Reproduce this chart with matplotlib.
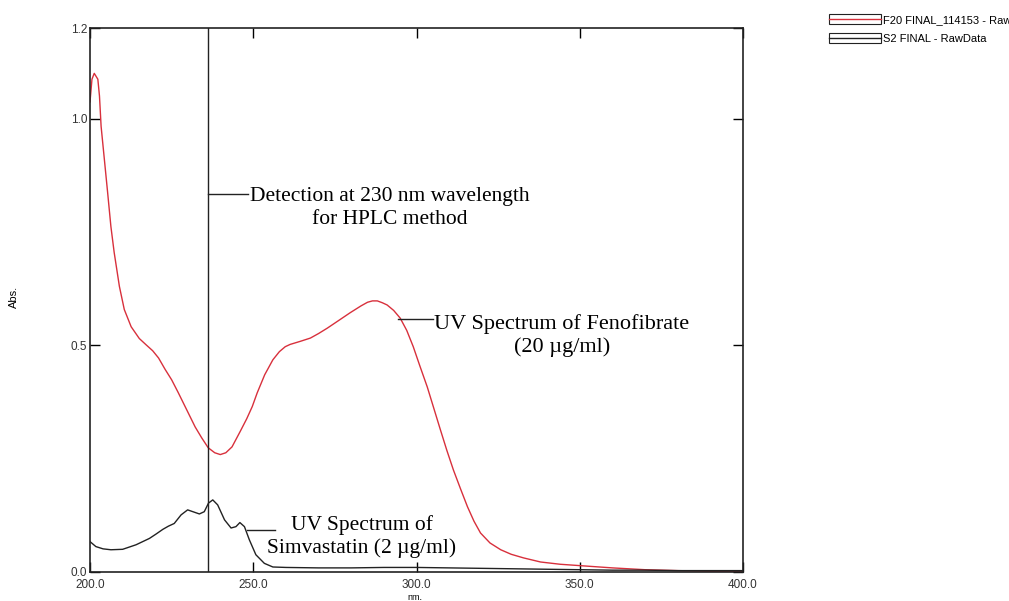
import numpy as np
import matplotlib
matplotlib.use('Agg')
from matplotlib import pyplot as plt
from matplotlib.patches import Rectangle
from matplotlib.lines import Line2D
from matplotlib.legend_handler import HandlerTuple

# UV spectrum of fenofibrate (20 ug/ml), wavelength in nm and absorbance
feno_nm = [200.0, 200.6, 201.3, 202.4, 202.9, 203.4, 204.4, 205.4, 206.4, 207.4, 209.0, 210.5,
           212.6, 215.1, 217.2, 219.2, 221.0, 223.0, 225.0, 227.0, 229.6, 232.2, 234.2, 236.2,
           238.2, 239.9, 241.6, 243.5, 246.0, 248.0, 249.7, 251.2, 253.5, 256.0, 258.0, 259.8,
           261.3, 264.5, 267.5, 270.0, 272.7, 276.0, 279.7, 283.0, 285.0, 286.5, 288.0, 289.5,
           291.0, 293.0, 295.0, 297.0, 299.0, 301.0, 303.3, 305.3, 307.3, 309.3, 311.3, 313.5,
           315.6, 317.6, 319.6, 322.5, 325.8, 329.0, 332.8, 338.0, 344.0, 350.0, 360.0, 370.0,
           380.0, 390.0, 400.0]
feno_abs = [1.037, 1.087, 1.100, 1.087, 1.050, 0.983, 0.910, 0.837, 0.762, 0.705, 0.630, 0.579,
            0.541, 0.515, 0.501, 0.488, 0.472, 0.447, 0.424, 0.396, 0.358, 0.320, 0.296, 0.274,
            0.263, 0.259, 0.263, 0.276, 0.310, 0.338, 0.365, 0.395, 0.435, 0.468, 0.486, 0.497,
            0.502, 0.509, 0.516, 0.526, 0.538, 0.554, 0.572, 0.587, 0.595, 0.598, 0.598, 0.594,
            0.589, 0.577, 0.560, 0.533, 0.497, 0.455, 0.408, 0.361, 0.314, 0.268, 0.225, 0.183,
            0.144, 0.112, 0.086, 0.064, 0.049, 0.039, 0.031, 0.022, 0.017, 0.014, 0.009, 0.005,
            0.003, 0.0015, 0.001]

# UV spectrum of simvastatin (2 ug/ml)
simva_nm = [200.0, 201.8, 204.0, 206.4, 210.0, 214.1, 218.2, 220.3, 222.3, 224.0, 225.8, 227.9,
            229.9, 231.5, 233.5, 235.0, 236.3, 237.6, 239.1, 241.2, 243.2, 244.7, 245.9, 247.3,
            248.8, 250.8, 253.4, 256.0, 260.0, 270.0, 280.0, 290.0, 300.0, 310.0, 320.0, 330.0,
            340.0, 350.0, 360.0, 370.0, 380.0, 390.0, 400.0]
simva_abs = [0.067, 0.056, 0.051, 0.049, 0.050, 0.060, 0.074, 0.084, 0.094, 0.101, 0.107, 0.126,
             0.137, 0.133, 0.128, 0.133, 0.152, 0.159, 0.148, 0.115, 0.097, 0.100, 0.109, 0.100,
             0.071, 0.038, 0.019, 0.011, 0.010, 0.009, 0.009, 0.010, 0.010, 0.009, 0.008, 0.007,
             0.006, 0.005, 0.004, 0.004, 0.003, 0.003, 0.003]

detect_nm = 236.2
xticks = [200, 250, 300, 350, 400]
yticks = [0.0, 0.5, 1.0, 1.2]
legend_labels = ['F20 FINAL_114153 - RawData', 'S2 FINAL - RawData']

red = '#d8303c'
ink = '#222222'
serif = ['Liberation Serif', 'DejaVu Serif']
sans = ['Liberation Sans', 'DejaVu Sans']

fig = plt.figure(figsize=(10.09, 6.01), dpi=100)
ax = fig.add_axes([0.0892, 0.0483, 0.6472, 0.9051])

ax.plot(feno_nm, feno_abs, color=red, lw=1.0)
ax.plot(simva_nm, simva_abs, color=ink, lw=1.0)
ax.axvline(detect_nm, color=ink, lw=1.0)

ax.set_xlim(200, 400)
ax.set_ylim(0, 1.2)
ax.set_xticks(xticks)
ax.set_xticklabels(['%.1f' % v for v in xticks], family=sans, fontsize=8.5, color='#333333')
ax.set_yticks(yticks)
ax.set_yticklabels(['%.1f' % v for v in yticks], family=sans, fontsize=8.5, color='#333333')
ax.tick_params(direction='in', length=7, width=1, top=True, right=True)
ax.tick_params(axis='x', pad=5)
ax.tick_params(axis='y', pad=2)
for s in ax.spines.values():
    s.set_linewidth(1.2)
    s.set_color(ink)
ax.set_xlabel('nm.', family=sans, fontsize=6.5)
ax.xaxis.set_label_coords(0.497, -0.038)
ax.set_ylabel('Abs.', family=sans, fontsize=8)
ax.yaxis.set_label_coords(-0.108, 0.505)

# annotations: leader lines and labels
fs = 15.5
ls = 1.26
ax.plot([detect_nm, 248.4], [0.833, 0.833], color=ink, lw=1.0)
ax.text(249.0, 0.812, 'Detection at 230 nm wavelength\nfor HPLC method', ha='left',
        va='center_baseline', family=serif, fontsize=fs, linespacing=ls + 0.03,
        multialignment='center')
ax.plot([294.3, 305.0], [0.557, 0.557], color=ink, lw=1.0)
ax.text(305.5, 0.531, 'UV Spectrum of Fenofibrate\n(20 \u00b5g/ml)', ha='left',
        va='center_baseline', family=serif, fontsize=fs + 0.5, linespacing=ls - 0.04,
        multialignment='center')
ax.plot([248.1, 256.7], [0.093, 0.093], color=ink, lw=1.0)
ax.text(254.3, 0.087, 'UV Spectrum of\nSimvastatin (2 \u00b5g/ml)', ha='left',
        va='center_baseline', family=serif, fontsize=fs, linespacing=ls - 0.02,
        multialignment='center')

# legend boxes outside plot
h1 = (Rectangle((0, 0), 1, 1, facecolor='none', edgecolor=ink, lw=0.8), Line2D([], [], color=red, lw=1))
h2 = (Rectangle((0, 0), 1, 1, facecolor='none', edgecolor=ink, lw=0.8), Line2D([], [], color=ink, lw=1))
fig.legend([h1, h2], legend_labels, handler_map={tuple: HandlerTuple(ndivide=1)},
           loc='upper left', bbox_to_anchor=(0.822, 0.976), frameon=False,
           prop={'family': sans, 'size': 8}, handlelength=4.6, handleheight=0.95,
           handletextpad=0.25, labelspacing=0.75, borderaxespad=0, borderpad=0)

fig.savefig('out.png', dpi=100)
